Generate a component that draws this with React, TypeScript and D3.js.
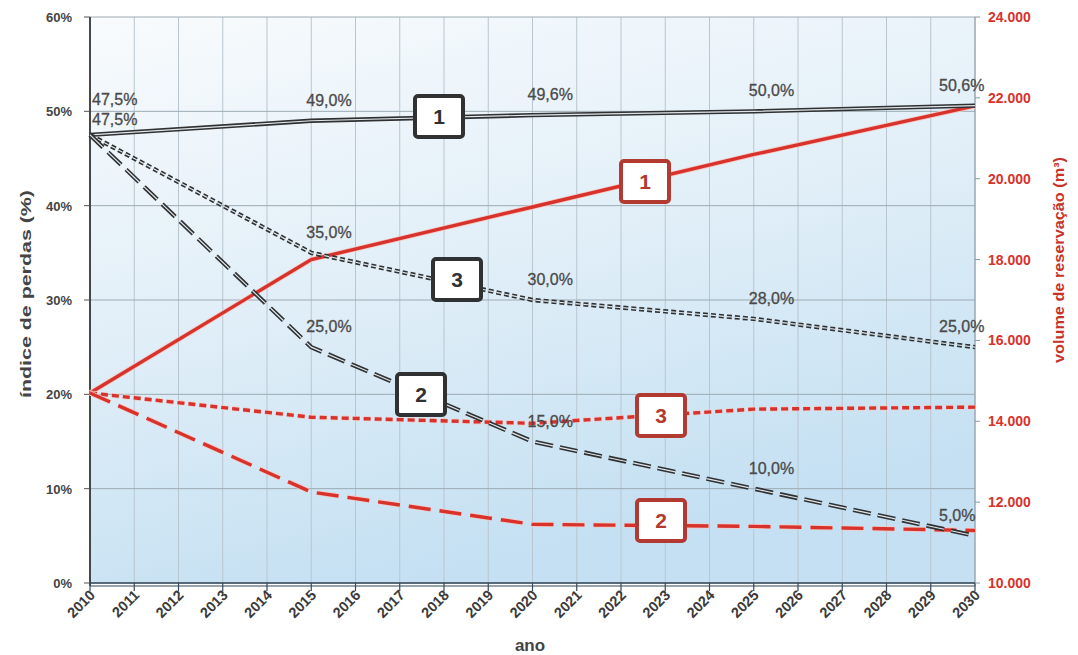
import React from "react";
import * as d3 from "d3";

const tickYears = [2010, 2011, 2012, 2013, 2014, 2015, 2016, 2017, 2018, 2019, 2020, 2021, 2022, 2023, 2024, 2025, 2026, 2027, 2028, 2029, 2030];
const dataYears = [2010, 2015, 2020, 2025, 2030];
const loss1 = [47.5, 49.0, 49.6, 50.0, 50.6];
const loss2 = [47.5, 25.0, 15.0, 10.0, 5.0];
const loss3 = [47.5, 35.0, 30.0, 28.0, 25.0];
const vol1 = [14700, 18000, 19300, 20600, 21800];
const vol2 = [14700, 12250, 11450, 11400, 11300];
const vol3 = [14700, 14100, 13950, 14300, 14350];
const leftTicks = [0, 10, 20, 30, 40, 50, 60];
const rightTicks = [10000, 12000, 14000, 16000, 18000, 20000, 22000, 24000];

const W = 1078, H = 655;
const L = 90, R = 975, T = 17, B = 583;

export default function App() {
  const x = d3.scaleLinear().domain([2010, 2030]).range([L, R]);
  const yL = d3.scaleLinear().domain([0, 60]).range([B, T]);
  const yR = d3.scaleLinear().domain([10000, 24000]).range([B, T]);
  const lineL = d3.line<number>().x((_, i) => x(dataYears[i])).y(d => yL(d));
  const lineR = d3.line<number>().x((_, i) => x(dataYears[i])).y(d => yR(d));
  const fmtPct = (v: number) => v.toFixed(1).replace(".", ",") + "%";
  const fmtVol = (v: number) => d3.format(",")(v).replace(",", ".");

  const black = "#2f3133";
  const red = "#d8322c";

  const blackSeries = [
    { vals: loss1, dash: "none", first: true, dy: -30 },
    { vals: loss3, dash: "5 3", first: true, dy: -10 },
    { vals: loss2, dash: "18 7", first: false, dy: -15 },
  ];
  const redSeries = [
    { vals: vol1, dash: "none" },
    { vals: vol3, dash: "7 4" },
    { vals: vol2, dash: "22 9" },
  ];

  const labelDx = (i: number) => (i === 0 ? 2 : i === 4 ? -36 : -5);

  const boxes = [
    { x: 415, y: 96, t: "1", c: black },
    { x: 433, y: 259, t: "3", c: black },
    { x: 397, y: 374, t: "2", c: black },
    { x: 621, y: 161, t: "1", c: "#b33a30" },
    { x: 637, y: 395, t: "3", c: "#b33a30" },
    { x: 637, y: 500, t: "2", c: "#b33a30" },
  ];

  return (
    <svg width={W} height={H} style={{ position: "absolute", left: 0, top: 0, background: "#fff" }}>
      <defs>
        <linearGradient id="bg" x1="0" y1="0" x2="0.35" y2="1">
          <stop offset="0" stopColor="#f8fbfd" />
          <stop offset="0.5" stopColor="#e2eff8" />
          <stop offset="1" stopColor="#c4e0f2" />
        </linearGradient>
      </defs>
      <rect x={L} y={T} width={R - L} height={B - T} fill="url(#bg)" />
      {tickYears.map(yr => (
        <line key={"vg" + yr} x1={x(yr)} x2={x(yr)} y1={T} y2={B} stroke="#b9c6cf" strokeWidth={1} />
      ))}
      {leftTicks.map(t => (
        <line key={"hg" + t} x1={L} x2={R} y1={yL(t)} y2={yL(t)} stroke="#9caab3" strokeWidth={1} />
      ))}
      {/* axes */}
      <line x1={L} x2={L} y1={T} y2={B + 3} stroke="#222" strokeWidth={1.6} />
      <line x1={R} x2={R} y1={T} y2={B + 3} stroke="#8a98a2" strokeWidth={1} />
      <line x1={L} x2={R} y1={B} y2={B} stroke="#34495a" strokeWidth={1.4} />
      <line x1={L} x2={R} y1={B + 3} y2={B + 3} stroke="#34495a" strokeWidth={1.2} />
      {tickYears.map(yr => (
        <line key={"xt" + yr} x1={x(yr)} x2={x(yr)} y1={B} y2={B + 8} stroke="#34495a" strokeWidth={1.2} />
      ))}
      {leftTicks.map(t => (
        <g key={"lt" + t}>
          <line x1={L - 6} x2={L} y1={yL(t)} y2={yL(t)} stroke="#555" strokeWidth={1} />
          <text x={72} y={yL(t) + 5} textAnchor="end" fontFamily="Liberation Sans, Arial" fontWeight="bold" fontSize={13} fill="#444">
            {t}%
          </text>
        </g>
      ))}
      {rightTicks.map(t => (
        <g key={"rt" + t}>
          <line x1={R} x2={R + 5} y1={yR(t)} y2={yR(t)} stroke="#8a98a2" strokeWidth={1} />
          <text x={988} y={yR(t) + 5} textAnchor="start" fontFamily="Liberation Sans, Arial" fontWeight="bold" fontSize={14} fill={red}>
            {fmtVol(t)}
          </text>
        </g>
      ))}
      {tickYears.map(yr => (
        <text key={"xl" + yr} transform={`translate(${x(yr) + 6},${B + 13}) rotate(-45)`} textAnchor="end"
          fontFamily="Liberation Sans, Arial" fontWeight="bold" fontSize={14.5} fill="#3a3a3a">
          {yr}
        </text>
      ))}
      <text x={530} y={651} textAnchor="middle" fontFamily="Liberation Sans, Arial" fontWeight="bold" fontSize={17} fill="#444">ano</text>
      <text transform="translate(31,294) rotate(-90)" textAnchor="middle" fontFamily="Liberation Sans, Arial" fontWeight="bold"
        fontSize={15} fill="#444" textLength={208} lengthAdjust="spacingAndGlyphs">índice de perdas (%)</text>
      <text transform="translate(1064,260) rotate(-90)" textAnchor="middle" fontFamily="Liberation Sans, Arial" fontWeight="bold"
        fontSize={15} fill="#c8302a" textLength={206} lengthAdjust="spacingAndGlyphs">volume de reservação (m³)</text>

      {/* red series */}
      {redSeries.map((s, k) => (
        <g key={"rs" + k}>
          <path d={lineR(s.vals) || ""} fill="none" stroke="#f3c9c4" strokeWidth={5} strokeDasharray={s.dash} />
          <path d={lineR(s.vals) || ""} fill="none" stroke={red} strokeWidth={3.4} strokeDasharray={s.dash} />
        </g>
      ))}
      {/* black series (double-line look) */}
      {blackSeries.map((s, k) => (
        <g key={"bs" + k}>
          <path d={lineL(s.vals) || ""} fill="none" stroke={black} strokeWidth={4.4} strokeDasharray={s.dash} />
          <path d={lineL(s.vals) || ""} fill="none" stroke="#dfe6ea" strokeWidth={1.2} strokeDasharray={s.dash} />
        </g>
      ))}
      {/* data labels */}
      {blackSeries.map((s, k) =>
        s.vals.map((v, i) => {
          if (i === 0 && !s.first) return null;
          return (
            <text key={"dl" + k + "-" + i} x={x(dataYears[i]) + labelDx(i)}
              y={yL(v) + (i === 0 ? s.dy : -15)}
              fontFamily="Liberation Sans, Arial" fontSize={16} fill="#4a4a4a" stroke="#4a4a4a" strokeWidth={0.3}>
              {fmtPct(v)}
            </text>
          );
        })
      )}
      {/* legend boxes */}
      {boxes.map((b, i) => (
        <g key={"bx" + i}>
          <rect x={b.x} y={b.y} width={48} height={41} rx={3} fill="#fff" stroke={b.c} strokeWidth={4} />
          <text x={b.x + 24} y={b.y + 28} textAnchor="middle" fontFamily="Liberation Sans, Arial" fontWeight="bold" fontSize={21} fill={b.c}>
            {b.t}
          </text>
        </g>
      ))}
    </svg>
  );
}
